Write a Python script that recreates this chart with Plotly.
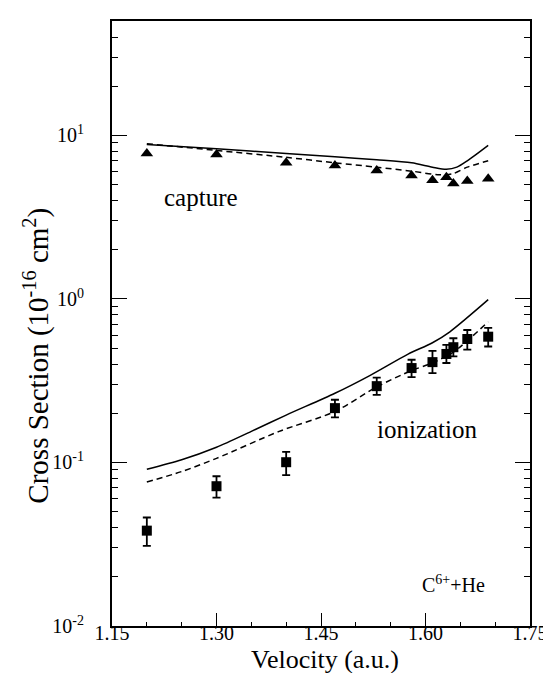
import plotly.graph_objects as go

# Experimental data
cap_x = [1.20, 1.30, 1.40, 1.47, 1.53, 1.58, 1.61, 1.63, 1.64, 1.66, 1.69]
cap_y = [7.75, 7.64, 6.8, 6.55, 6.1, 5.69, 5.33, 5.56, 5.09, 5.26, 5.43]

ion_x = [1.20, 1.30, 1.40, 1.47, 1.53, 1.58, 1.61, 1.63, 1.64, 1.66, 1.69]
ion_y = [0.0383, 0.0716, 0.1004, 0.215, 0.293, 0.378, 0.411, 0.461, 0.507, 0.569, 0.588]
ion_hi = [0.0461, 0.0824, 0.116, 0.242, 0.330, 0.425, 0.481, 0.524, 0.575, 0.646, 0.665]
ion_lo = [0.0309, 0.0609, 0.0836, 0.189, 0.259, 0.333, 0.352, 0.406, 0.445, 0.490, 0.512]

# Theory curves
cap_sol_x = [1.20, 1.30, 1.40, 1.47, 1.53, 1.58, 1.61, 1.63, 1.645, 1.66, 1.69]
cap_sol_y = [8.8, 8.3, 7.75, 7.4, 7.1, 6.8, 6.4, 6.22, 6.4, 7.0, 8.7]
cap_das_x = [1.20, 1.30, 1.40, 1.47, 1.53, 1.58, 1.62, 1.64, 1.66, 1.69]
cap_das_y = [8.9, 8.1, 7.35, 6.8, 6.4, 6.05, 5.75, 5.85, 6.4, 7.0]

ion_sol_x = [1.20, 1.25, 1.30, 1.35, 1.40, 1.47, 1.52, 1.575, 1.61, 1.635, 1.69]
ion_sol_y = [0.091, 0.104, 0.124, 0.155, 0.195, 0.265, 0.34, 0.46, 0.54, 0.63, 0.99]
ion_das_x = [1.20, 1.25, 1.30, 1.39, 1.47, 1.53, 1.58, 1.61, 1.64, 1.69]
ion_das_y = [0.076, 0.088, 0.106, 0.155, 0.205, 0.29, 0.365, 0.406, 0.473, 0.726]

x_ticks = [1.15, 1.30, 1.45, 1.60, 1.75]
x_ticktext = ["1.15", "1.30", "1.45", "1.60", "1.75"]
x_minor = [1.20, 1.25, 1.35, 1.40, 1.50, 1.55, 1.65, 1.70]
y_ticks = [0.01, 0.1, 1, 10]
y_ticktext = ["10<sup>-2</sup>", "10<sup>-1</sup>", "10<sup>0</sup>", "10<sup>1</sup>"]
y_minor = [m * d for d in [0.01, 0.1, 1, 10] for m in range(2, 10) if m * d < 50]

FONT = "Liberation Serif, Times New Roman, Times, serif"

fig = go.Figure()
line = dict(color="black", width=1.5)
fig.add_trace(go.Scatter(x=cap_sol_x, y=cap_sol_y, mode="lines", line=dict(line, shape="spline", smoothing=0.8)))
fig.add_trace(go.Scatter(x=cap_das_x, y=cap_das_y, mode="lines", line=dict(line, dash="6px,4px", shape="spline", smoothing=0.8)))
fig.add_trace(go.Scatter(x=ion_sol_x, y=ion_sol_y, mode="lines", line=dict(line, shape="spline", smoothing=0.8)))
fig.add_trace(go.Scatter(x=ion_das_x, y=ion_das_y, mode="lines", line=dict(line, dash="6px,4px", shape="spline", smoothing=0.8)))
fig.add_trace(go.Scatter(x=cap_x, y=cap_y, mode="markers",
                         marker=dict(symbol="triangle-up", size=11, color="black")))
fig.add_trace(go.Scatter(
    x=ion_x, y=ion_y, mode="markers",
    marker=dict(symbol="square", size=10, color="black"),
    error_y=dict(type="data", symmetric=False,
                 array=[h - v for h, v in zip(ion_hi, ion_y)],
                 arrayminus=[v - l for v, l in zip(ion_y, ion_lo)],
                 color="black", thickness=1.8, width=4)))

fig.update_layout(
    width=551, height=673,
    margin=dict(l=104, r=21, t=11, b=55),
    paper_bgcolor="white", plot_bgcolor="white",
    showlegend=False,
    font=dict(family=FONT, color="black"),
    xaxis=dict(range=[1.15, 1.75], tickvals=x_ticks, ticktext=x_ticktext,
               ticks="inside", ticklen=13, tickwidth=1, tickcolor="black",
               minor=dict(tickmode="array", tickvals=x_minor, ticks="inside", ticklen=4,
                          tickcolor="black", showgrid=False),
               showline=True, linecolor="black", linewidth=2, mirror=True,
               showgrid=False, zeroline=False, tickfont=dict(size=20, family=FONT),
               ticklabelstandoff=-12),
    yaxis=dict(type="log", range=[-2, 1.7], tickvals=y_ticks, ticktext=y_ticktext,
               ticks="inside", ticklen=15, tickwidth=1, tickcolor="black",
               minor=dict(tickmode="array", tickvals=y_minor, ticks="inside", ticklen=6,
                          tickcolor="black", showgrid=False),
               showline=True, linecolor="black", linewidth=2, mirror="ticks",
               showgrid=False, zeroline=False, tickfont=dict(size=20, family=FONT),
               ticklabelstandoff=22),
    annotations=[
        dict(text="Cross Section (10<sup>-16</sup> cm<sup>2</sup>)", xref="paper", yref="paper",
             x=-0.18, y=0.4465, textangle=-90, showarrow=False,
             font=dict(size=29, family=FONT), xanchor="center", yanchor="middle"),
        dict(text="Velocity (a.u.)", xref="paper", yref="paper",
             x=(321 - 104) / 426, y=-(652 - 618) / 607, showarrow=False,
             font=dict(size=26, family=FONT), xanchor="center", yanchor="middle"),
        dict(text="capture", xref="paper", yref="paper",
             x=(195 - 104) / 426, y=1 - (188 - 11) / 607, showarrow=False,
             font=dict(size=25, family=FONT), xanchor="center", yanchor="middle"),
        dict(text="ionization", xref="paper", yref="paper",
             x=(425 - 104) / 426, y=1 - (421 - 11) / 607, showarrow=False,
             font=dict(size=25, family=FONT), xanchor="center", yanchor="middle"),
        dict(text="C<sup>6+</sup>+He", xref="paper", yref="paper",
             x=(452 - 104) / 426, y=1 - (576 - 11) / 607, showarrow=False,
             font=dict(size=20, family=FONT), xanchor="center", yanchor="middle"),
    ],
)

fig.write_html("out.html")
